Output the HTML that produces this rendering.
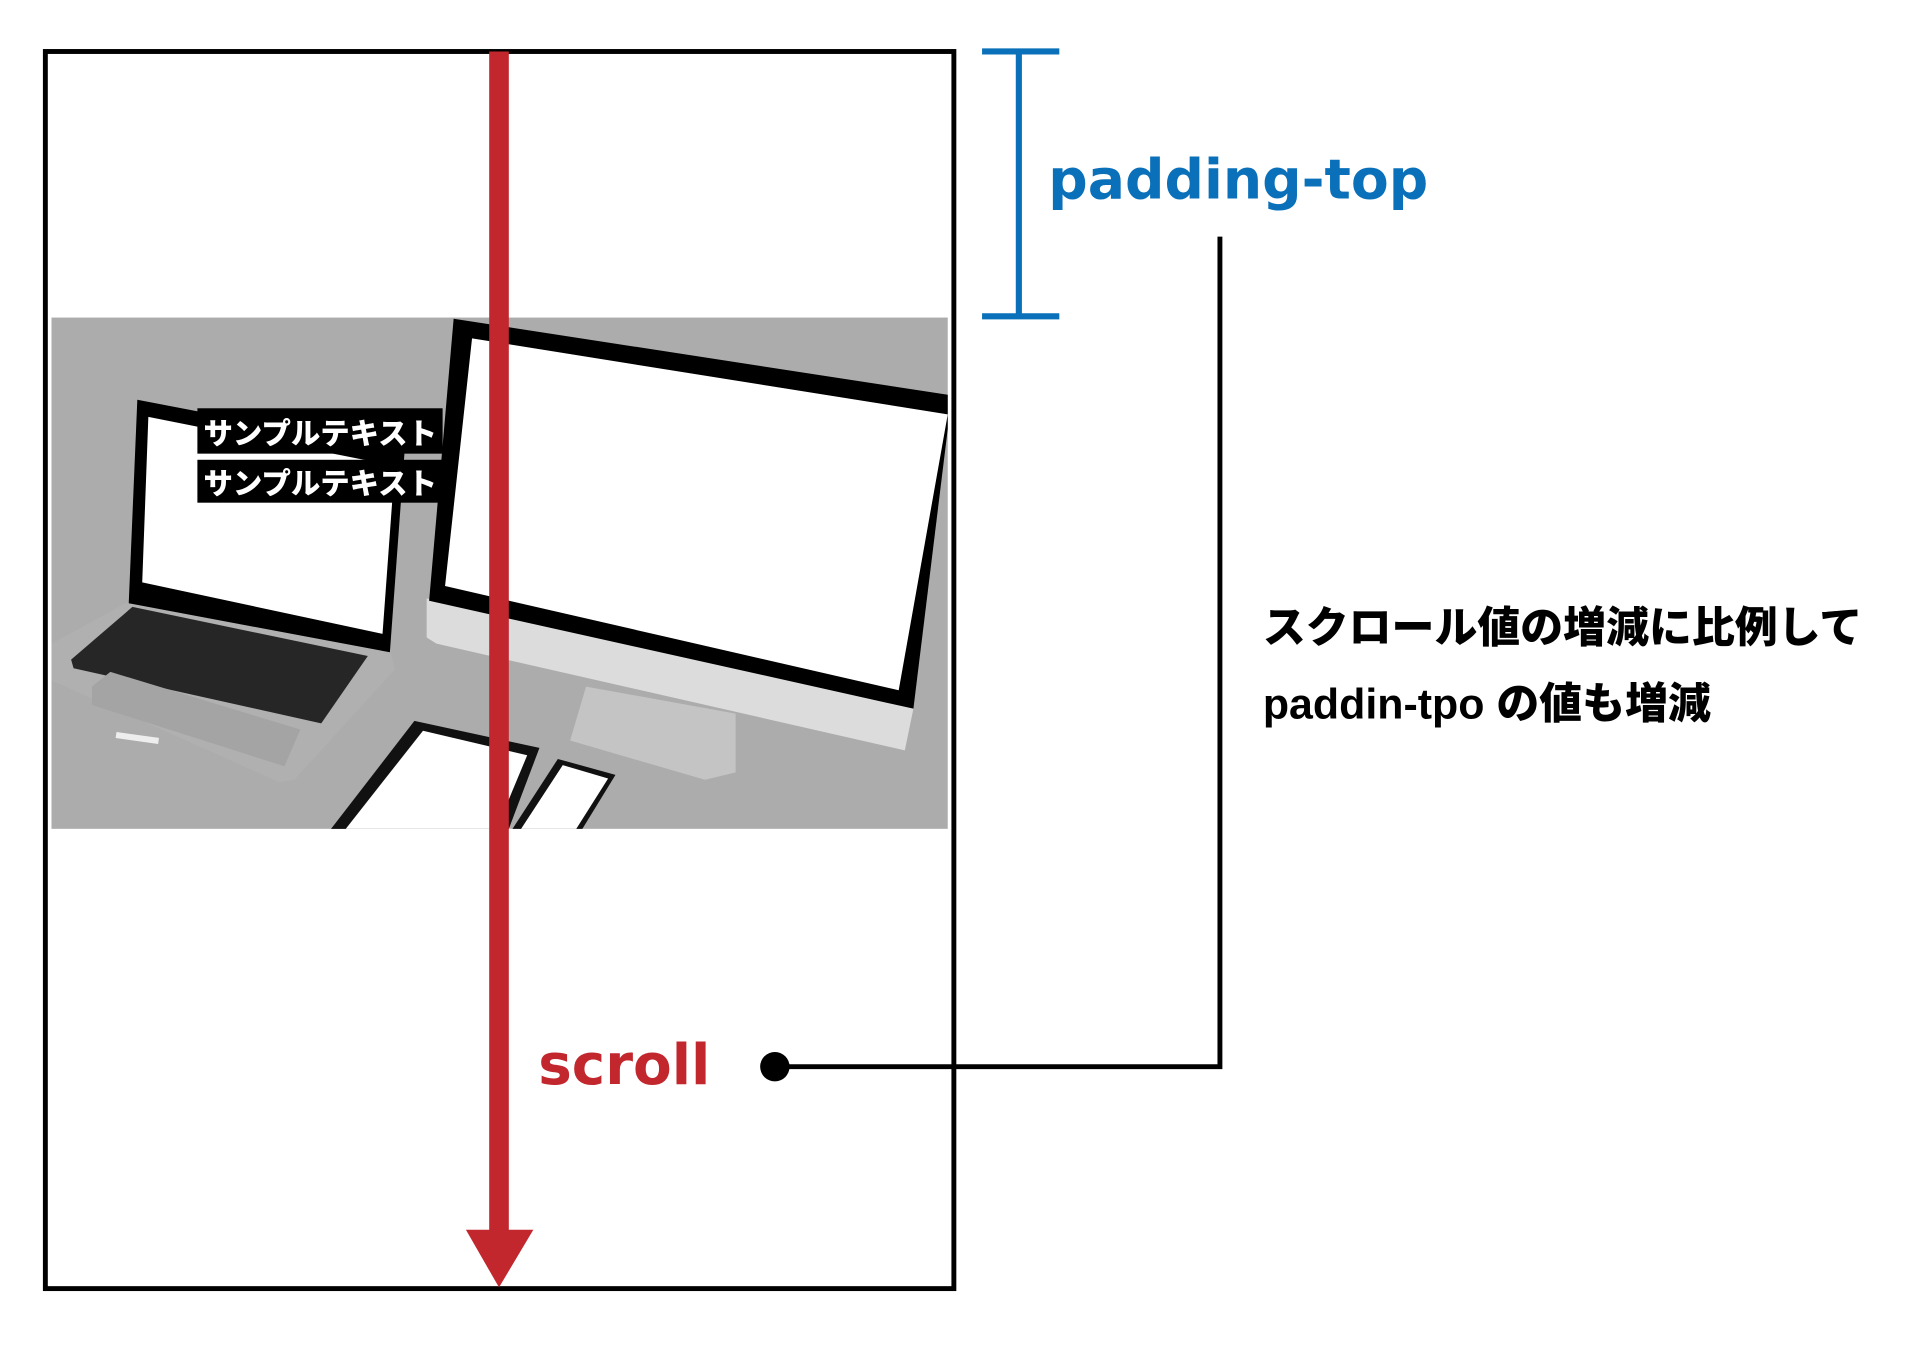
<!DOCTYPE html>
<html><head><meta charset="utf-8"><style>
html,body{margin:0;padding:0;background:#fff;}
svg{display:block;}
</style></head><body>
<svg width="1920" height="1345" viewBox="0 0 1566 1097" preserveAspectRatio="none" xmlns="http://www.w3.org/2000/svg">
<rect width="1566" height="1097" fill="#fff"/>
<g>
<rect x="42" y="259" width="731" height="417" fill="#acacac"/>
<polygon points="42,525 110,488 318,528 322,546 240,636 228,638 42,555" fill="#b0b0b0"/>
<polygon points="58,538 108,495 300,535 262,590 60,545" fill="#262626"/>
<polygon points="75,560 90,548 245,595 232,625 75,575" fill="#a4a4a4"/>
<rect x="95" y="597" width="35" height="5" fill="#eee" transform="rotate(8 95 597)"/>
<polygon points="112,326 330,368 318,532 105,492" fill="#000"/>
<polygon points="121,340 322,380 312,517 116,475" fill="#fff"/>
<polygon points="348,488 745,578 738,612 356,525 348,520" fill="#dcdcdc"/>
<polygon points="478,560 600,582 600,630 575,636 465,604" fill="#c4c4c4"/>
<polygon points="370,260 773,322 773,350 745,578 350,490" fill="#000"/>
<polygon points="385,276 773,338 733,563 363,478" fill="#fff"/>
<polygon points="270,676 338,588 440,610 415,676" fill="#111"/>
<polygon points="282,676 345,596 430,616 405,676" fill="#fff"/>
<polygon points="418,676 455,619 502,632 475,676" fill="#111"/>
<polygon points="425,676 459,624 496,635 470,676" fill="#fff"/>
<rect x="161" y="333" width="200" height="37" fill="#000"/>
<rect x="161" y="375" width="200" height="35" fill="#000"/>
<text x="166" y="362" font-family="Liberation Sans,'Noto Sans CJK JP',sans-serif" font-weight="900" font-size="24" fill="#fff">サンプルテキスト</text>
<text x="166" y="403" font-family="Liberation Sans,'Noto Sans CJK JP',sans-serif" font-weight="900" font-size="24" fill="#fff">サンプルテキスト</text>
</g>
<rect x="37" y="42" width="741" height="1009" fill="none" stroke="#000" stroke-width="4"/>
<rect x="399" y="42" width="16" height="965" fill="#c1272d"/>
<polygon points="380,1003 435,1003 407,1050" fill="#c1272d"/>
<g stroke="#0a70ba" stroke-width="5" fill="none">
<line x1="801" y1="42" x2="864" y2="42"/>
<line x1="801" y1="258" x2="864" y2="258"/>
<line x1="831" y1="42" x2="831" y2="258"/>
</g>
<text x="855" y="162" font-family="'DejaVu Sans',sans-serif" font-weight="bold" font-size="45" fill="#0a70ba">padding-top</text>
<polyline points="632,870 995,870 995,193" fill="none" stroke="#000" stroke-width="4"/>
<circle cx="632" cy="870" r="12" fill="#000"/>
<text x="439" y="884" font-family="'DejaVu Sans',sans-serif" font-weight="bold" font-size="46" fill="#c1272d">scroll</text>
<text x="1030" y="524" font-family="'Liberation Sans','Noto Sans CJK JP',sans-serif" font-weight="900" font-size="35" fill="#000">スクロール値の増減に比例して</text>
<text x="1030" y="586" font-family="'Liberation Sans','Noto Sans CJK JP',sans-serif" font-weight="900" font-size="35" fill="#000">paddin-tpo の値も増減</text>
</svg>
</body></html>
